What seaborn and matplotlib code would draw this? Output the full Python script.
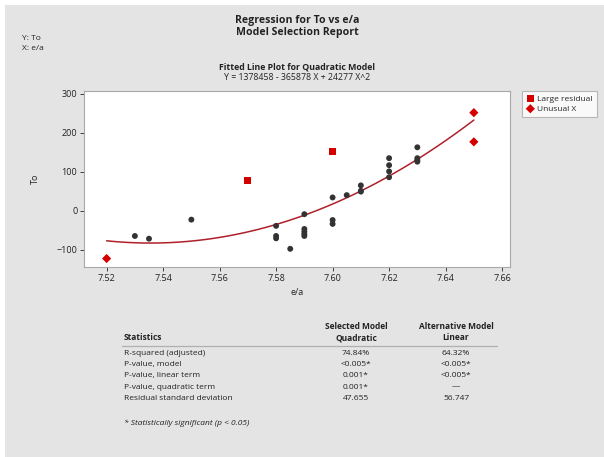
import matplotlib
matplotlib.use("Agg")
import matplotlib.pyplot as plt
import numpy as np
import pandas as pd
import seaborn as sns

# Regular observations (e/a, To)
ea_normal = [7.53, 7.535, 7.55, 7.58, 7.58, 7.58, 7.585, 7.59, 7.59, 7.59, 7.59, 7.59,
             7.60, 7.60, 7.60, 7.605, 7.61, 7.61, 7.61, 7.62, 7.62, 7.62, 7.62,
             7.63, 7.63, 7.63, 7.63]
to_normal = [-65, -72, -23, -39, -65, -71, -98, -9, -47, -54, -60, -65,
             34, -24, -34, 40, 65, 51, 49, 135, 117, 101, 86,
             163, 135, 130, 126]

# Flagged observations
ea_large_resid = [7.57, 7.60]
to_large_resid = [77, 152]
ea_unusual_x = [7.52, 7.65, 7.65]
to_unusual_x = [-123, 252, 177]

stat_rows = ["R-squared (adjusted)", "P-value, model", "P-value, linear term",
             "P-value, quadratic term", "Residual standard deviation"]
quad_vals = ["74.84%", "<0.005*", "0.001*", "0.001*", "47.655"]
lin_vals = ["64.32%", "<0.005*", "<0.005*", "\u2014", "56.747"]

sns.set_theme(style="white")
plt.rcParams["font.family"] = ["Open Sans", "DejaVu Sans"]

BG = "#e4e4e4"
RED = "#d40000"
TXT = "#222222"

fig = plt.figure(figsize=(6.04, 4.57), dpi=100)
fig.patch.set_facecolor("white")
# grey report panel
fig.patches.append(plt.Rectangle((5 / 604, -0.01), 1, 1.01 - 5 / 457, transform=fig.transFigure,
                                 facecolor=BG, edgecolor="none", zorder=-10))

ax = fig.add_axes([84.3 / 604, 1 - 266.7 / 457, (510 - 84.3) / 604, (266.7 - 91) / 457])
ax.set_facecolor("white")

all_df = pd.DataFrame({
    "ea": ea_normal + ea_large_resid + ea_unusual_x,
    "to": to_normal + to_large_resid + to_unusual_x,
})
sns.regplot(data=all_df, x="ea", y="to", order=2, ci=None, scatter=False, ax=ax,
            line_kws=dict(color="#b0202a", lw=1.1))

sns.scatterplot(x=ea_normal, y=to_normal, ax=ax, color="#333333", s=18,
                edgecolor="none", marker="o", zorder=3)
sns.scatterplot(x=ea_large_resid, y=to_large_resid, ax=ax, color=RED, s=26,
                edgecolor="none", marker="s", zorder=3, label="Large residual")
sns.scatterplot(x=ea_unusual_x, y=to_unusual_x, ax=ax, color=RED, s=22,
                edgecolor="none", marker="D", zorder=3, label="Unusual X")

ax.set_xlim(7.5121, 7.6628)
ax.set_ylim(-144, 307.7)
ax.set_xticks([7.52, 7.54, 7.56, 7.58, 7.60, 7.62, 7.64, 7.66])
ax.set_xticklabels(["7.52", "7.54", "7.56", "7.58", "7.60", "7.62", "7.64", "7.66"])
ax.set_yticks([-100, 0, 100, 200, 300])
ax.tick_params(axis="both", labelsize=6.5, colors=TXT, length=3, width=0.6,
               direction="out", bottom=True, left=True, pad=2)
for t in ax.get_xticklines() + ax.get_yticklines():
    t.set_color("#999999")
for side in ["left", "bottom", "right", "top"]:
    ax.spines[side].set_color("#a8a8a8")
    ax.spines[side].set_linewidth(0.8)
ax.set_xlabel("e/a", fontsize=6.5, color=TXT, labelpad=4)
ax.set_ylabel("To", fontsize=6.5, color=TXT, labelpad=12)

leg = ax.legend(loc="upper left", bbox_to_anchor=(522 / 604, 1 - 91 / 457),
                bbox_transform=fig.transFigure, fontsize=6, frameon=True,
                fancybox=False, borderpad=0.5, handletextpad=0.3, labelspacing=0.25,
                handlelength=1.0, borderaxespad=0)
leg.get_frame().set_edgecolor("#a8a8a8")
leg.get_frame().set_linewidth(0.8)
leg.get_frame().set_facecolor("white")

def fx(px):
    return px / 604

def fy(py):
    return 1 - py / 457

fig.text(fx(297), fy(20), "Regression for To vs e/a", ha="center", va="center",
         fontsize=7.6, fontweight="bold", color=TXT)
fig.text(fx(297), fy(32), "Model Selection Report", ha="center", va="center",
         fontsize=7.6, fontweight="bold", color=TXT)
fig.text(fx(22), fy(38), "Y: To", ha="left", va="center", fontsize=6.0, color=TXT)
fig.text(fx(22), fy(48), "X: e/a", ha="left", va="center", fontsize=6.0, color=TXT)
fig.text(fx(297), fy(67), "Fitted Line Plot for Quadratic Model", ha="center", va="center",
         fontsize=6.3, fontweight="bold", color=TXT)
fig.text(fx(297), fy(78), "Y = 1378458 - 365878 X + 24277 X^2", ha="center", va="center",
         fontsize=6.3, color=TXT)

# statistics table
fig.text(fx(124), fy(338), "Statistics", ha="left", va="center", fontsize=6.0,
         fontweight="bold", color=TXT)
fig.text(fx(356), fy(326.5), "Selected Model", ha="center", va="center", fontsize=6.0,
         fontweight="bold", color=TXT)
fig.text(fx(356), fy(338), "Quadratic", ha="center", va="center", fontsize=6.0,
         fontweight="bold", color=TXT)
fig.text(fx(456), fy(326.5), "Alternative Model", ha="center", va="center", fontsize=6.0,
         fontweight="bold", color=TXT)
fig.text(fx(456), fy(338), "Linear", ha="center", va="center", fontsize=6.0,
         fontweight="bold", color=TXT)
fig.add_artist(plt.Line2D([fx(122), fx(497)], [fy(345.5), fy(345.5)],
                          transform=fig.transFigure, color="#b0b0b0", lw=0.9))
row_y = [353.3, 364.6, 375.8, 387.1, 398.3]
for label, qv, lv, yy in zip(stat_rows, quad_vals, lin_vals, row_y):
    fig.text(fx(124), fy(yy), label, ha="left", va="center", fontsize=6.0, color=TXT)
    fig.text(fx(356), fy(yy), qv, ha="center", va="center", fontsize=6.0, color=TXT)
    fig.text(fx(456), fy(yy), lv, ha="center", va="center", fontsize=6.0, color=TXT)
fig.text(fx(124), fy(423), "* Statistically significant (p < 0.05)", ha="left", va="center",
         fontsize=6.0, style="italic", color=TXT)

fig.savefig("out.png", dpi=100, facecolor=fig.get_facecolor())
